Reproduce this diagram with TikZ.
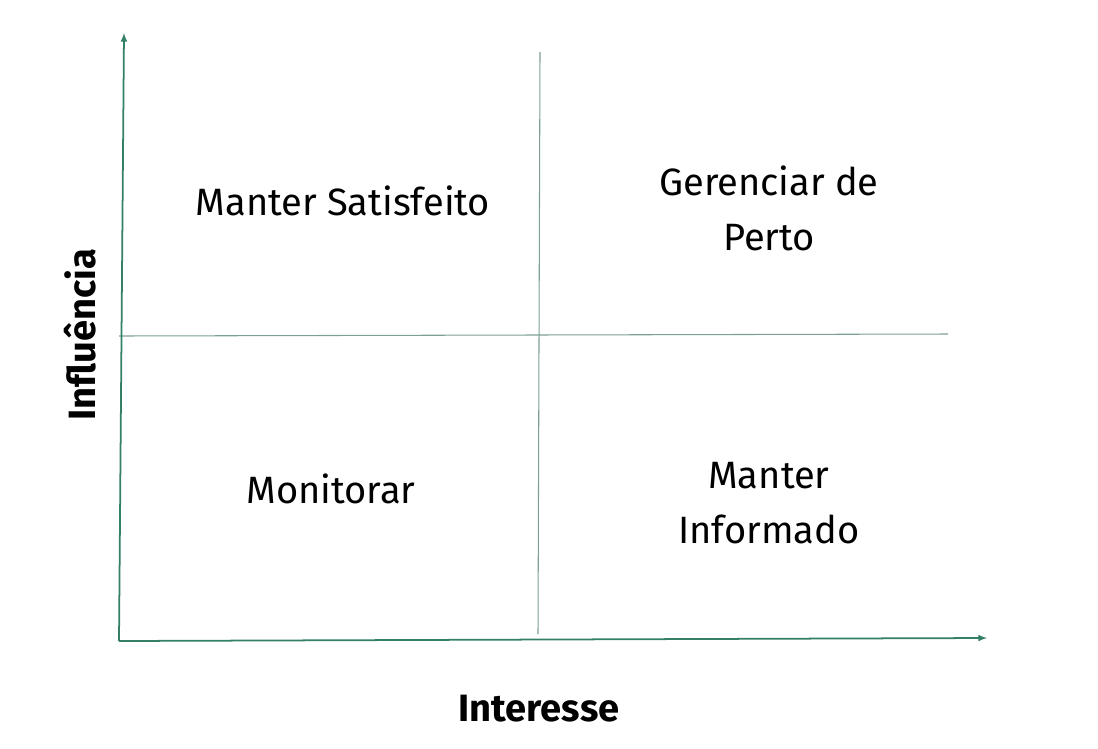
\documentclass[tikz,border=0pt]{standalone}
\usepackage{fontspec}
\setmainfont{Fira Sans}
\usetikzlibrary{calc}

\definecolor{eixo}{RGB}{52,128,100}
\definecolor{divisa}{RGB}{125,160,148}

\begin{document}
\begin{tikzpicture}[x=0.03cm, y=-0.03cm]
  \useasboundingbox (0,0) rectangle (1098,748);
  \tikzset{
    quadrante/.style={font=\fontsize{32.5}{47}\selectfont, align=center},
    rotulo/.style={font=\fontsize{32.5}{36}\selectfont\bfseries}
  }
  \coordinate (O) at (119,641);
  \coordinate (Y) at (124,33);   % topo do eixo vertical
  \coordinate (X) at (987,638);  % fim do eixo horizontal
  \coordinate (VA) at (540,52);
  \coordinate (VB) at (538,634);
  \coordinate (HA) at (119,336);
  \coordinate (HB) at (948,334);

  \draw[divisa, line width=0.9pt] (VA)--(VB);
  \draw[divisa, line width=0.9pt] (HA)--(HB);
  \draw[eixo, line width=1.5pt, -latex] (O)--(Y);
  \draw[eixo, line width=1.5pt, -latex] (O)--(X);

  \node[quadrante] (satisfeito) at (343,201) {Manter Satisfeito};
  \node[quadrante] (perto) at (769,208) {Gerenciar de\\Perto};
  \node[quadrante] (monitorar) at (331,489) {Monitorar};
  \node[quadrante] (informado) at (769,503) {Manter\\Informado};

  \node[rotulo] (interesse) at (539,709) {Interesse};
  \node[rotulo, rotate=90] (influencia) at (80,335) {Influência};
\end{tikzpicture}
\end{document}
